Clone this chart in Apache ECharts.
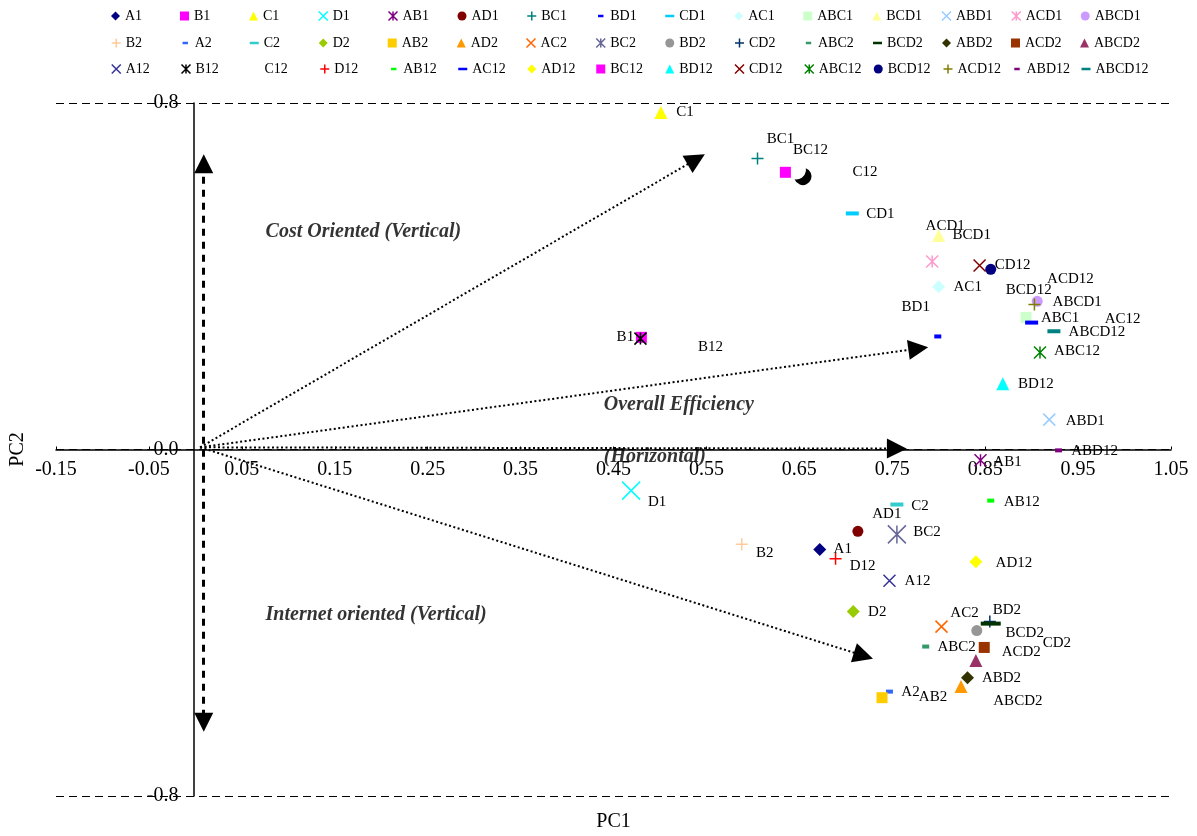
<!DOCTYPE html>
<html><head><meta charset="utf-8">
<script src="https://cdn.jsdelivr.net/npm/echarts@6/dist/echarts.min.js"></script>
<style>html,body{margin:0;padding:0;background:#fff}#c{width:1197px;height:836px}</style>
</head><body><div id="c"></div>
<script>
// ---------- data ----------
const row1Names = ['A1','B1','C1','D1','AB1','AD1','BC1','BD1','CD1','AC1','ABC1','BCD1','ABD1','ACD1','ABCD1'];
const row1PC1 = [0.672,0.480,0.501,0.469,0.845,0.713,0.605,0.799,0.707,0.800,0.894,0.800,0.919,0.793,0.906];
const row1PC2 = [-0.231,0.259,0.778,-0.095,-0.025,-0.189,0.672,0.261,0.545,0.376,0.305,0.494,0.069,0.434,0.342];

const row2Names = ['B2','A2','C2','D2','AB2','AD2','AC2','BC2','BD2','CD2','ABC2','BCD2','ABD2','ACD2','ABCD2'];
const row2PC1 = [0.588,0.747,0.755,0.708,0.739,0.824,0.803,0.755,0.841,0.855,0.786,0.856,0.831,0.849,0.840];
const row2PC2 = [-0.219,-0.559,-0.127,-0.374,-0.573,-0.547,-0.409,-0.196,-0.418,-0.397,-0.455,-0.402,-0.527,-0.457,-0.487];

const row3Names = ['A12','B12','C12','D12','AB12','AC12','AD12','BC12','BD12','CD12','ABC12','BCD12','ACD12','ABD12','ABCD12'];
const row3PC1 = [0.747,0.479,0.654,0.689,0.856,0.900,0.840,0.635,0.869,0.844,0.909,0.856,0.903,0.929,0.924];
const row3PC2 = [-0.303,0.256,0.630,-0.252,-0.118,0.293,-0.259,0.640,0.152,0.425,0.224,0.416,0.335,-0.002,0.273];

const xTickMin = -0.15, xTickMax = 1.05, xTickStep = 0.1;
const yTickMin = -0.8, yTickMax = 0.8, yTickStep = 0.8;

// annotation arrows (data coordinates)
const arrowOrigin = [0.005, 0.005];
const arrowEnds = [[0.539, 0.670], [0.778, 0.233], [0.755, 0.002], [0.719, -0.476]];
const verticalArrow = [[0.009, 0.660], [0.009, -0.630]];
const noteTexts = ['Cost Oriented (Vertical)', 'Overall Efficiency', '(Horizontal)', 'Internet oriented (Vertical)'];
const notePC1 = [0.075, 0.439, 0.439, 0.075];
const notePC2 = [0.503, 0.104, -0.016, -0.381];

// ---------- styles ----------
const SERIF = '"Liberation Serif","Times New Roman",serif';
const W = 1197, H = 836;
const GRID = {left: 56, right: 26, top: 103, bottom: 40};
const row1Colors = ['#000080','#FF00FF','#FFFF00','#00FFFF','#800080','#800000','#008080','#0000FF','#00CCFF','#CCFFFF','#CCFFCC','#FFFF99','#99CCFF','#FF99CC','#CC99FF'];
const row2Colors = ['#FFCC99','#3366FF','#33CCCC','#99CC00','#FFCC00','#FF9900','#FF6600','#666699','#969696','#003366','#339966','#003300','#333300','#993300','#993366'];
const row3Colors = ['#333399','#000000','#000000','#FF0000','#00FF00','#0000FF','#FFFF00','#FF00FF','#00FFFF','#800000','#008000','#000080','#808000','#800080','#008080'];
const shapeCycle = ['diamond','rect','triangle','x','star','circle','plus','dot','dash'];
const shapeOverride = {C12: 'moon'};
const sizeOverride = {D1: 18, BC2: 18, BCD2: [20, 4]};
const labelOffsets = {
  A1:[23,0], B1:[-16,0], C1:[24,0], D1:[26,11], AB1:[27,2], AD1:[29,-17], BC1:[23,-19], BD1:[-22,-29],
  CD1:[28,1], AC1:[29,0], ABC1:[34,1], BCD1:[33,0], ABD1:[36,1], ACD1:[13,-35], ABCD1:[40,1],
  B2:[23,9], A2:[21,0], C2:[23,2], D2:[24,1], AB2:[51,-1], AD2:null, AC2:[23,-14], BC2:[30,-2],
  BD2:[30,-20], CD2:[67,22], ABC2:[31,0], BCD2:[34,9], ABD2:[34,0], ACD2:[37,5], ABCD2:[42,41],
  A12:[28,0], B12:[70,8], C12:[62,-5], D12:[27,7], AB12:[31,1], AC12:[91,-4], AD12:[38,1], BC12:[25,-22],
  BD12:[33,0], CD12:[33,0], ABC12:[37,-1], BCD12:[38,21], ACD12:[36,-25], ABD12:[36,1], ABCD12:[43,1]
};
const chartSymbol = {
  diamond:'diamond', rect:'rect', triangle:'triangle', circle:'circle', dot:'rect', dash:'rect',
  x:'path://M0,0L10,10M10,0L0,10',
  plus:'path://M5,0L5,10M0,5L10,5',
  star:'path://M0,0L10,10M10,0L0,10M5,0L5,10',
  moon:'path://M13.08,1.54A9,9 0 1,1 1.54,13.08A10,10 0 0,0 13.08,1.54Z'
};
const legendSymbol = Object.assign({}, chartSymbol, {
  dot:'path://M0,0L0,0Z M10,10L10,10Z M2,3.5L8,3.5L8,6.5L2,6.5Z',
  dash:'path://M0,0L0,0Z M10,10L10,10Z M0,3.5L10,3.5L10,6.5L0,6.5Z',
  moon:'none'
});
const defaultSize = {diamond:13, rect:11, triangle:13, circle:11, x:12, plus:12, star:12, dot:[7,4], dash:[13,4], moon:17};
const strokeShapes = {x:true, plus:true, star:true};

// axis crossing: the axes pass through zero, placed with the axis offset
const gridW = W - GRID.left - GRID.right, gridH = H - GRID.top - GRID.bottom;
const yAxisOffset = -((0 - xTickMin) / (xTickMax - xTickMin)) * gridW;
const xAxisOffset = -((0 - yTickMin) / (yTickMax - yTickMin)) * gridH;

// ---------- build ----------
const allNames = row1Names.concat(row2Names, row3Names);
const allPC1 = row1PC1.concat(row2PC1, row3PC1);
const allPC2 = row1PC2.concat(row2PC2, row3PC2);
const allColors = row1Colors.concat(row2Colors, row3Colors);
const shapeOf = {}, colorOf = {};
allNames.forEach((n, i) => { shapeOf[n] = shapeOverride[n] || shapeCycle[i % 9]; colorOf[n] = allColors[i]; });

function styleFor(n) {
  const s = shapeOf[n], c = colorOf[n];
  return strokeShapes[s] ? {color: c, borderColor: c, borderWidth: 1.5} : {color: c, borderWidth: 0};
}

const pointSeries = allNames.map((n, i) => {
  const s = shapeOf[n];
  const off = labelOffsets[n];
  return {
    type: 'scatter', name: n, z: 4,
    data: [[allPC1[i], allPC2[i]]],
    symbol: chartSymbol[s],
    symbolSize: sizeOverride[n] || defaultSize[s],
    itemStyle: Object.assign({opacity: 1}, styleFor(n)),
    label: {
      show: !!off, formatter: n, position: 'inside', offset: off || [0,0],
      color: '#000', fontSize: 15, fontFamily: SERIF
    },
    emphasis: {disabled: true}
  };
});

function legendFor(names, top) {
  return {
    data: names.map(n => ({name: n, icon: legendSymbol[shapeOf[n]], itemStyle: styleFor(n)})),
    left: 111, top: top, orient: 'horizontal', padding: 0,
    itemWidth: 9, itemHeight: 9, itemGap: 10, selectedMode: false,
    textStyle: {fontSize: 14, lineHeight: 14, fontFamily: SERIF, color: '#000', width: 45, overflow: 'none'}
  };
}

const option = {
  animation: false,
  backgroundColor: '#fff',
  textStyle: {fontFamily: SERIF},
  grid: {left: GRID.left, right: GRID.right, top: GRID.top, bottom: GRID.bottom, containLabel: false, outerBoundsMode: 'none'},
  xAxis: {
    type: 'value', min: xTickMin, max: xTickMax, interval: xTickStep,
    position: 'bottom', offset: xAxisOffset,
    name: 'PC1', nameLocation: 'middle', nameGap: 362,
    nameTextStyle: {fontSize: 20, color: '#000', fontFamily: SERIF},
    axisLine: {onZero: false, lineStyle: {color: '#000', width: 1.5}},
    axisTick: {show: true, inside: true, length: 3, lineStyle: {color: '#000'}},
    axisLabel: {color: '#000', fontSize: 20, fontFamily: SERIF, margin: 10, formatter: v => v.toFixed(2)},
    splitLine: {show: false}
  },
  yAxis: {
    type: 'value', min: yTickMin, max: yTickMax, interval: yTickStep,
    position: 'left', offset: yAxisOffset + 2,
    name: 'PC2', nameLocation: 'middle', nameGap: 166, nameRotate: 90,
    nameTextStyle: {fontSize: 20, color: '#000', fontFamily: SERIF},
    axisLine: {onZero: false, lineStyle: {color: '#000', width: 1.5}},
    axisTick: {show: false},
    axisLabel: {color: '#000', fontSize: 20, fontFamily: SERIF, margin: 15, formatter: v => v.toFixed(1)},
    splitLine: {show: true, lineStyle: {type: [8, 5], color: '#000', width: 1}}
  },
  legend: [legendFor(row1Names, 9), legendFor(row2Names, 36), legendFor(row3Names, 62)],
  series: [
    {
      type: 'lines', coordinateSystem: 'cartesian2d', polyline: false, z: 1, silent: true,
      symbol: ['none', 'triangle'], symbolSize: [18, 20],
      lineStyle: {color: '#000', width: 2, type: [2, 2.5], opacity: 1},
      itemStyle: {color: '#000'},
      data: arrowEnds.map(e => ({coords: [arrowOrigin, e]}))
    },
    {
      type: 'lines', coordinateSystem: 'cartesian2d', polyline: false, z: 1, silent: true,
      symbol: ['triangle', 'triangle'], symbolSize: [19, 19],
      lineStyle: {color: '#000', width: 3, type: [7, 6], opacity: 1},
      data: [{coords: verticalArrow}]
    },
    {
      type: 'scatter', name: 'notes', z: 2, silent: true,
      symbol: 'circle', symbolSize: 1, itemStyle: {color: 'rgba(0,0,0,0)'},
      data: noteTexts.map((t, i) => ({value: [notePC1[i], notePC2[i]], name: t})),
      label: {show: true, position: 'right', distance: 0, formatter: p => p.name,
        color: '#000', fontSize: 20, fontWeight: 'bold', fontStyle: 'italic', fontFamily: SERIF}
    }
  ].concat(pointSeries)
};

const chart = echarts.init(document.getElementById('c'), null, {renderer: 'canvas'});
chart.setOption(option);
</script>
</body></html>
